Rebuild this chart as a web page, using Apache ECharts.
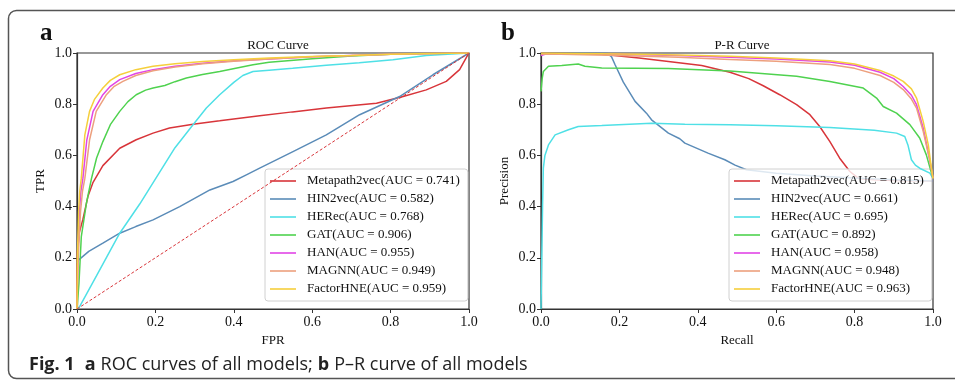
<!DOCTYPE html>
<html><head><meta charset="utf-8">
<script src="https://cdn.jsdelivr.net/npm/echarts@6/dist/echarts.min.js"></script>
<style>html,body{margin:0;padding:0;background:#fff}#c{width:955px;height:381px}</style>
</head><body><div id="c"></div>
<script>
const models = ['Metapath2vec','HIN2vec','HERec','GAT','HAN','MAGNN','FactorHNE'];
const colors = ['#d8353a','#5b8cb8','#4fe0e6','#4fd24f','#e245e6','#eda07e','#f5cf3c'];
const rocAUC = ['0.741','0.582','0.768','0.906','0.955','0.949','0.959'];
const prAUC  = ['0.815','0.661','0.695','0.892','0.958','0.948','0.963'];
const tickValues = [0, 0.2, 0.4, 0.6, 0.8, 1.0];

// ROC curves [FPR, TPR]
const rocMetapath2vec = [[0,0],[0.001,0.22],[0.006,0.3],[0.015,0.35],[0.028,0.44],[0.041,0.495],[0.066,0.56],[0.109,0.628],[0.151,0.661],[0.194,0.687],[0.236,0.707],[0.296,0.722],[0.364,0.735],[0.466,0.755],[0.55,0.77],[0.636,0.785],[0.764,0.804],[0.832,0.83],[0.891,0.856],[0.942,0.889],[0.976,0.935],[0.997,0.993],[1,1]];
const rocHIN2vec = [[0,0.18],[0.003,0.19],[0.03,0.225],[0.066,0.257],[0.109,0.296],[0.15,0.322],[0.194,0.348],[0.262,0.40],[0.339,0.465],[0.398,0.498],[0.432,0.524],[0.466,0.55],[0.551,0.615],[0.636,0.68],[0.721,0.759],[0.823,0.83],[0.908,0.915],[1,1]];
const rocHERec = [[0,0],[0.007,0.01],[0.05,0.13],[0.109,0.296],[0.16,0.41],[0.205,0.52],[0.25,0.63],[0.296,0.72],[0.33,0.785],[0.364,0.837],[0.4,0.885],[0.423,0.912],[0.449,0.928],[0.49,0.933],[0.55,0.94],[0.636,0.952],[0.72,0.962],[0.806,0.974],[0.891,0.99],[1,1]];
const rocGAT = [[0,0],[0.005,0.1],[0.011,0.283],[0.024,0.413],[0.037,0.51],[0.05,0.59],[0.066,0.654],[0.085,0.72],[0.109,0.772],[0.13,0.81],[0.151,0.837],[0.175,0.855],[0.194,0.863],[0.224,0.873],[0.25,0.888],[0.279,0.902],[0.32,0.916],[0.364,0.928],[0.449,0.954],[0.49,0.964],[0.6,0.978],[0.7,0.988],[0.8,0.995],[0.9,0.998],[1,1]];
const rocHAN = [[0,0],[0.002,0.2],[0.006,0.38],[0.01,0.46],[0.015,0.51],[0.025,0.66],[0.041,0.772],[0.066,0.837],[0.085,0.87],[0.109,0.896],[0.15,0.92],[0.194,0.935],[0.25,0.948],[0.321,0.96],[0.4,0.97],[0.49,0.977],[0.6,0.985],[0.7,0.99],[0.8,0.995],[0.9,0.998],[1,1]];
const rocMAGNN = [[0,0],[0.003,0.2],[0.009,0.38],[0.014,0.46],[0.02,0.51],[0.032,0.66],[0.049,0.772],[0.075,0.837],[0.095,0.87],[0.117,0.889],[0.15,0.912],[0.194,0.931],[0.25,0.945],[0.321,0.958],[0.4,0.968],[0.49,0.977],[0.6,0.985],[0.7,0.99],[0.8,0.995],[0.9,0.998],[1,1]];
const rocFactorHNE = [[0,0],[0.001,0.2],[0.004,0.38],[0.007,0.46],[0.011,0.511],[0.02,0.68],[0.032,0.772],[0.045,0.82],[0.066,0.863],[0.085,0.893],[0.109,0.915],[0.15,0.935],[0.194,0.948],[0.25,0.958],[0.321,0.967],[0.4,0.974],[0.49,0.98],[0.6,0.986],[0.7,0.99],[0.8,0.995],[0.9,0.998],[1,1]];
const rocDiagonal = [[0,0],[1,1]];

// P-R curves [Recall, Precision]
const prMetapath2vec = [[0,1],[0.05,0.999],[0.155,0.995],[0.25,0.98],[0.325,0.967],[0.41,0.951],[0.482,0.925],[0.53,0.9],[0.567,0.872],[0.609,0.837],[0.652,0.798],[0.686,0.759],[0.711,0.713],[0.737,0.654],[0.762,0.589],[0.788,0.537],[0.81,0.51],[0.85,0.505],[0.9,0.502],[1,0.5]];
const prHIN2vec = [[0,1],[0.1,1],[0.17,0.998],[0.18,0.985],[0.189,0.954],[0.21,0.886],[0.24,0.811],[0.269,0.765],[0.282,0.739],[0.325,0.687],[0.354,0.665],[0.367,0.648],[0.426,0.609],[0.469,0.583],[0.495,0.562],[0.524,0.544],[0.6,0.53],[0.7,0.52],[0.8,0.512],[0.9,0.505],[1,0.5]];
const prHERec = [[0,0],[0.002,0.2],[0.004,0.4],[0.006,0.55],[0.01,0.6],[0.019,0.641],[0.036,0.68],[0.07,0.70],[0.095,0.713],[0.155,0.717],[0.282,0.726],[0.367,0.722],[0.482,0.72],[0.6,0.716],[0.737,0.709],[0.85,0.698],[0.907,0.687],[0.928,0.674],[0.936,0.641],[0.945,0.583],[0.955,0.562],[0.966,0.55],[0.992,0.531],[1,0.51]];
const prGAT = [[0,0.85],[0.003,0.9],[0.006,0.928],[0.019,0.948],[0.053,0.951],[0.095,0.957],[0.112,0.948],[0.155,0.941],[0.325,0.939],[0.482,0.93],[0.652,0.909],[0.737,0.889],[0.822,0.863],[0.856,0.824],[0.873,0.791],[0.907,0.765],[0.941,0.72],[0.966,0.668],[0.983,0.602],[1,0.51]];
const prHAN = [[0,0.99],[0.01,0.995],[0.05,0.997],[0.2,0.995],[0.35,0.99],[0.482,0.983],[0.6,0.977],[0.737,0.965],[0.8,0.952],[0.865,0.925],[0.9,0.9],[0.924,0.869],[0.945,0.835],[0.958,0.798],[0.975,0.707],[0.992,0.58],[1,0.51]];
const prMAGNN = [[0,0.995],[0.05,0.995],[0.2,0.99],[0.35,0.983],[0.482,0.975],[0.6,0.968],[0.737,0.955],[0.8,0.94],[0.865,0.912],[0.9,0.885],[0.924,0.857],[0.945,0.82],[0.958,0.785],[0.975,0.694],[0.992,0.58],[1,0.51]];
const prFactorHNE = [[0,1],[0.1,0.998],[0.25,0.995],[0.35,0.992],[0.482,0.987],[0.6,0.98],[0.737,0.97],[0.8,0.957],[0.865,0.932],[0.9,0.91],[0.924,0.889],[0.945,0.86],[0.958,0.824],[0.975,0.733],[0.988,0.641],[0.996,0.55],[1,0.51]];

const rocData = [rocMetapath2vec, rocHIN2vec, rocHERec, rocGAT, rocHAN, rocMAGNN, rocFactorHNE];
const prData  = [prMetapath2vec, prHIN2vec, prHERec, prGAT, prHAN, prMAGNN, prFactorHNE];

const SERIF = '"Liberation Serif", "Times New Roman", serif';
const rocNames = models.map((m,i)=>m+'(AUC = '+rocAUC[i]+')');
const prNames  = models.map((m,i)=>m+'(AUC = '+prAUC[i]+')');

function axis(gi, name, vertical){
  return {
    type:'value', gridIndex:gi, min:0, max:1, interval:0.2,
    name:name, nameLocation:'middle', nameGap: vertical?30:24,
    nameTextStyle:{fontFamily:SERIF, fontSize:13, color:'#111'},
    axisLine:{show:true, lineStyle:{color:'#333', width:1.2}},
    axisTick:{show:true, length:4, lineStyle:{color:'#333'}},
    axisLabel:{fontFamily:SERIF, fontSize:14, color:'#111', margin:vertical?5:6,
      formatter:v=>v.toFixed(1)},
    splitLine:{show:false}
  };
}
function legend(left, names){
  return {
    orient:'vertical', left:left, top:169, data:names, selectedMode:false,
    icon:'rect', itemWidth:26, itemHeight:1.6, itemGap:4,
    padding:[5,8,5,5],
    backgroundColor:'rgba(255,255,255,0.8)', borderColor:'#d0d0d0', borderWidth:1, borderRadius:3,
    textStyle:{fontFamily:SERIF, fontSize:13, color:'#111', lineHeight:14, padding:[0,0,0,6]}
  };
}
const series = [];
rocData.forEach((d,i)=>series.push({type:'line', name:rocNames[i], xAxisIndex:0, yAxisIndex:0, data:d,
  showSymbol:false, symbol:'none', lineStyle:{width:1.5, color:colors[i]}, itemStyle:{color:colors[i]}, z:2+i}));
series.push({type:'line', name:'diag', xAxisIndex:0, yAxisIndex:0, data:rocDiagonal, showSymbol:false, symbol:'none',
  lineStyle:{width:1, color:'#d8353a', type:[3,2]}, z:10});
prData.forEach((d,i)=>series.push({type:'line', name:prNames[i], xAxisIndex:1, yAxisIndex:1, data:d,
  showSymbol:false, symbol:'none', lineStyle:{width:1.5, color:colors[i]}, itemStyle:{color:colors[i]}, z:2+i}));

const chart = echarts.init(document.getElementById('c'), null, {renderer:'canvas'});
chart.setOption({
  animation:false,
  backgroundColor:'#fff',
  title:[
    {text:'ROC Curve', left:273, top:34, textAlign:'center', textStyle:{fontFamily:SERIF, fontSize:13, fontWeight:'normal', color:'#111'}},
    {text:'P-R Curve', left:737, top:34, textAlign:'center', textStyle:{fontFamily:SERIF, fontSize:13, fontWeight:'normal', color:'#111'}},
    {text:'a', left:35, top:16, textStyle:{fontFamily:SERIF, fontSize:25, fontWeight:'bold', color:'#111'}},
    {text:'b', left:496, top:16, textStyle:{fontFamily:SERIF, fontSize:25, fontWeight:'bold', color:'#111'}},
    {text:'{f|Fig. 1}  {b|a} {r|ROC curves of all models;} {b|b} {r|P–R curve of all models}', left:24, top:351,
     textStyle:{rich:{
       f:{fontFamily:'Open Sans', fontSize:18, fontWeight:'bold', color:'#222'},
       b:{fontFamily:'Open Sans', fontSize:18, fontWeight:'bold', color:'#222'},
       r:{fontFamily:'Open Sans', fontSize:18, fontWeight:'normal', color:'#222'}
     }}}
  ],
  graphic:[{type:'rect', shape:{x:8.5, y:10.5, width:980, height:368, r:8}, style:{fill:'none', stroke:'#555', lineWidth:1.5}, silent:true, z:100}],
  grid:[
    {left:77, right:486, top:53, bottom:72, show:true, borderColor:'#333', borderWidth:1.2, backgroundColor:'transparent'},
    {left:541, right:22, top:53, bottom:72, show:true, borderColor:'#333', borderWidth:1.2, backgroundColor:'transparent'}
  ],
  xAxis:[axis(0,'FPR',false), axis(1,'Recall',false)],
  yAxis:[axis(0,'TPR',true), axis(1,'Precision',true)],
  legend:[legend(265, rocNames), legend(729, prNames)],
  series:series
});
</script></body></html>
